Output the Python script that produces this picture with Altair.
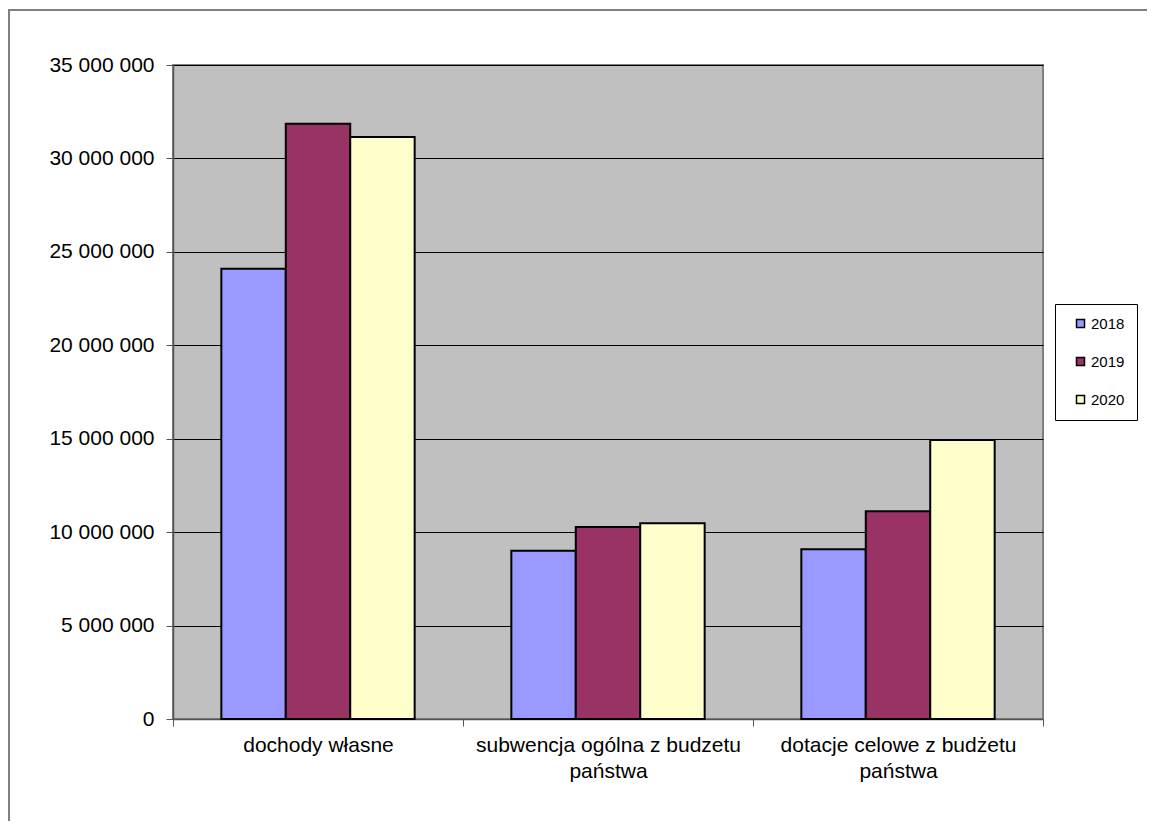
import json
import altair as alt
import pandas as pd

categories = ["dochody własne", "subwencja ogólna z budzetu państwa", "dotacje celowe z budżetu państwa"]
category_lines = [["dochody własne"], ["subwencja ogólna z budzetu", "państwa"], ["dotacje celowe z budżetu", "państwa"]]
years = ["2018", "2019", "2020"]
values_2018 = [24100000, 9000000, 9080000]
values_2019 = [31850000, 10280000, 11120000]
values_2020 = [31150000, 10480000, 14930000]
colors = ["#9999FF", "#993366", "#FFFFCC"]
y_ticks = [0, 5000000, 10000000, 15000000, 20000000, 25000000, 30000000, 35000000]

rows = []
for yr, vals in zip(years, [values_2018, values_2019, values_2020]):
    for c, v in zip(categories, vals):
        rows.append({"kategoria": c, "rok": yr, "wartosc": v})
df = pd.DataFrame(rows)

label_expr = " : ".join(
    f"datum.value == {json.dumps(c, ensure_ascii=False)} ? {json.dumps(l, ensure_ascii=False)}"
    for c, l in zip(categories, category_lines)
) + " : datum.label"

W, H = 870, 654
PAD = {"left": 165, "top": 57, "right": 104, "bottom": 102}

one = pd.DataFrame({"a": [1]})
frame_left = alt.Chart(one).mark_rect(fill="#808080", strokeWidth=0).encode(
    x=alt.value(-165), x2=alt.value(-163), y=alt.value(-56), y2=alt.value(H + PAD["bottom"])
)
frame_top = alt.Chart(one).mark_rect(fill="#808080", strokeWidth=0).encode(
    x=alt.value(-165), x2=alt.value(W + PAD["right"]), y=alt.value(-56), y2=alt.value(-54)
)

bars = alt.Chart(df).mark_bar(stroke="black", strokeWidth=2).encode(
    x=alt.X("kategoria:N", sort=categories, title=None,
            scale=alt.Scale(paddingInner=0, paddingOuter=0),
            axis=alt.Axis(labelAngle=0, labelExpr=label_expr, labelFontSize=21,
                          labelFont="Liberation Sans", labelColor="black",
                          labelLimit=400, labelLineHeight=26, labelBaseline="top",
                          labelPadding=8, tickBand="extent", tickSize=7,
                          tickColor="#555555", domainColor="#555555", domainWidth=1.5,
                          grid=False)),
    xOffset=alt.XOffset("rok:N", sort=years,
                        scale=alt.Scale(paddingInner=0, paddingOuter=0.75)),
    y=alt.Y("wartosc:Q", title=None,
            scale=alt.Scale(domain=[0, 35000000], nice=False),
            axis=alt.Axis(values=y_ticks,
                          labelExpr="replace(format(datum.value, ','), regexp(',', 'g'), ' ')",
                          labelFontSize=21, labelFont="Liberation Sans", labelColor="black",
                          labelPadding=12, tickSize=7, tickColor="#555555",
                          domainColor="#555555", domainWidth=1.5,
                          grid=True, gridColor="black", gridWidth=1, gridOpacity=1)),
    color=alt.Color("rok:N", sort=years,
                    scale=alt.Scale(domain=years, range=colors),
                    legend=alt.Legend(title=None, orient="none", legendX=882, legendY=239,
                                      symbolType="square", symbolSize=64,
                                      symbolStrokeColor="black", symbolStrokeWidth=1.5,
                                      symbolOffset=6,
                                      labelFontSize=15, labelFont="Liberation Sans",
                                      labelColor="black", labelOffset=3,
                                      rowPadding=22, padding=12,
                                      strokeColor="black", fillColor="white")),
)

chart = alt.layer(frame_left, frame_top, bars).properties(
    width=W, height=H,
    autosize=alt.AutoSizeParams(type="none"),
    padding=PAD,
    background="white",
).configure_view(
    fill="#C0C0C0", stroke="#808080", strokeWidth=2
)

chart.save("out.html", embed_options={"renderer": "svg", "actions": False})
